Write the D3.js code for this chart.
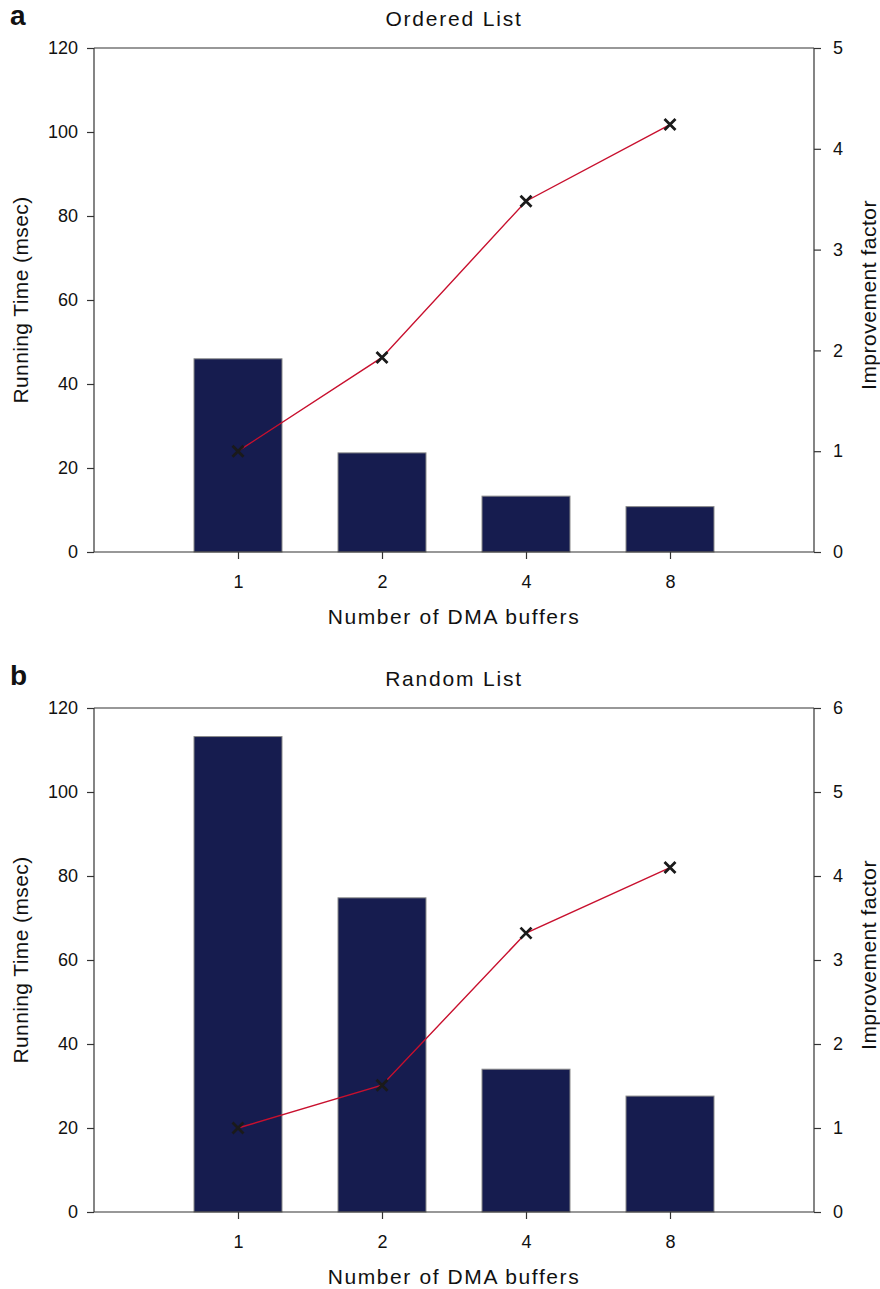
<!DOCTYPE html>
<html><head><meta charset="utf-8">
<script src="https://cdn.jsdelivr.net/npm/d3@7"></script>
<style>body{margin:0;background:#fff}svg{display:block}text{font-family:"Liberation Sans",Arial,sans-serif;fill:#111}</style>
</head><body><svg id="c" width="880" height="1289"></svg>
<script>
const categories = ["1","2","4","8"];
const orderedTime = [46.0, 23.6, 13.3, 10.8];
const orderedFactor = [1.0, 1.93, 3.48, 4.24];
const randomTime = [113.2, 74.8, 34.0, 27.6];
const randomFactor = [1.0, 1.51, 3.32, 4.10];
const leftTicks = [0,20,40,60,80,100,120];
const rightTicksA = [0,1,2,3,4,5];
const rightTicksB = [0,1,2,3,4,5,6];

const svg = d3.select("#c");
const L = 94, R = 814;
const FF = "Liberation Sans, Arial, sans-serif";

function panel(top, letter, title, times, factors, rTicks, rMax){
  const bottom = top + 504;
  const g = svg.append("g");
  const x = d3.scaleLinear().domain([0,5]).range([L,R]);
  const y = d3.scaleLinear().domain([0,120]).range([bottom, top]);
  const y2 = d3.scaleLinear().domain([0,rMax]).range([bottom, top]);
  const bw = 88;
  g.selectAll("rect.bar").data(times).join("rect")
    .attr("x",(d,i)=>x(i+1)-bw/2).attr("y",d=>y(d))
    .attr("width",bw).attr("height",d=>bottom-y(d))
    .attr("fill","#161c4f").attr("stroke","#8a8a8a").attr("stroke-width",1);
  g.append("line").attr("x1",L).attr("x2",R).attr("y1",top).attr("y2",top).attr("stroke","#333").attr("stroke-width",1.2);
  const ax = d3.axisLeft(y).tickValues(leftTicks).tickSize(7).tickPadding(9);
  const gl = g.append("g").attr("transform",`translate(${L},0)`).call(ax);
  const ar = d3.axisRight(y2).tickValues(rTicks).tickFormat(d3.format("d")).tickSize(7).tickPadding(12);
  const gr = g.append("g").attr("transform",`translate(${R},0)`).call(ar);
  const ab = d3.axisBottom(x).tickValues([1,2,3,4]).tickFormat((d)=>categories[d-1]).tickSize(7).tickPadding(16);
  const gb = g.append("g").attr("transform",`translate(0,${bottom})`).call(ab);
  [gl,gr,gb].forEach(a=>{
    a.attr("font-size",18).attr("font-family",FF);
    a.select(".domain").attr("stroke","#333").attr("stroke-width",1.2);
    a.selectAll(".tick line").attr("stroke","#333").attr("stroke-width",1.2);
    a.selectAll(".tick text").attr("font-size",18).attr("fill","#111").attr("font-family",FF);
  });
  gb.select(".domain").attr("d",`M${L},0H${R}`);
  gl.select(".domain").attr("d",`M0,${bottom}V${top}`);
  gr.select(".domain").attr("d",`M0,${bottom}V${top}`);
  const line = d3.line().x((d,i)=>x(i+1)).y(d=>y2(d));
  g.append("path").datum(factors).attr("d",line).attr("fill","none").attr("stroke","#c8102e").attr("stroke-width",1.4);
  const s = 5.5;
  g.selectAll("path.mk").data(factors).join("path")
    .attr("d",(d,i)=>{const cx=x(i+1), cy=y2(d); return `M${cx-s},${cy-s}L${cx+s},${cy+s}M${cx-s},${cy+s}L${cx+s},${cy-s}`;})
    .attr("stroke","#1a1a1a").attr("stroke-width",2.8).attr("fill","none");
  g.append("text").attr("x",10).attr("y",top-23).attr("font-size",28).attr("font-weight","bold").attr("font-family",FF).text(letter);
  g.append("text").attr("x",(L+R)/2).attr("y",top-22).attr("text-anchor","middle").attr("font-size",21).attr("letter-spacing",1.8).text(title);
  g.append("text").attr("x",(L+R)/2).attr("y",bottom+72).attr("text-anchor","middle").attr("font-size",21).attr("letter-spacing",1.6).text("Number of DMA buffers");
  g.append("text").attr("transform",`translate(28,${(top+bottom)/2}) rotate(-90)`).attr("text-anchor","middle").attr("font-size",21).attr("letter-spacing",0.4).text("Running Time (msec)");
  g.append("text").attr("transform",`translate(876,${(top+bottom)/2-5}) rotate(-90)`).attr("text-anchor","middle").attr("font-size",21).attr("letter-spacing",0.5).text("Improvement factor");
}
panel(48,"a","Ordered List",orderedTime,orderedFactor,rightTicksA,5);
panel(708,"b","Random List",randomTime,randomFactor,rightTicksB,6);
</script></body></html>
